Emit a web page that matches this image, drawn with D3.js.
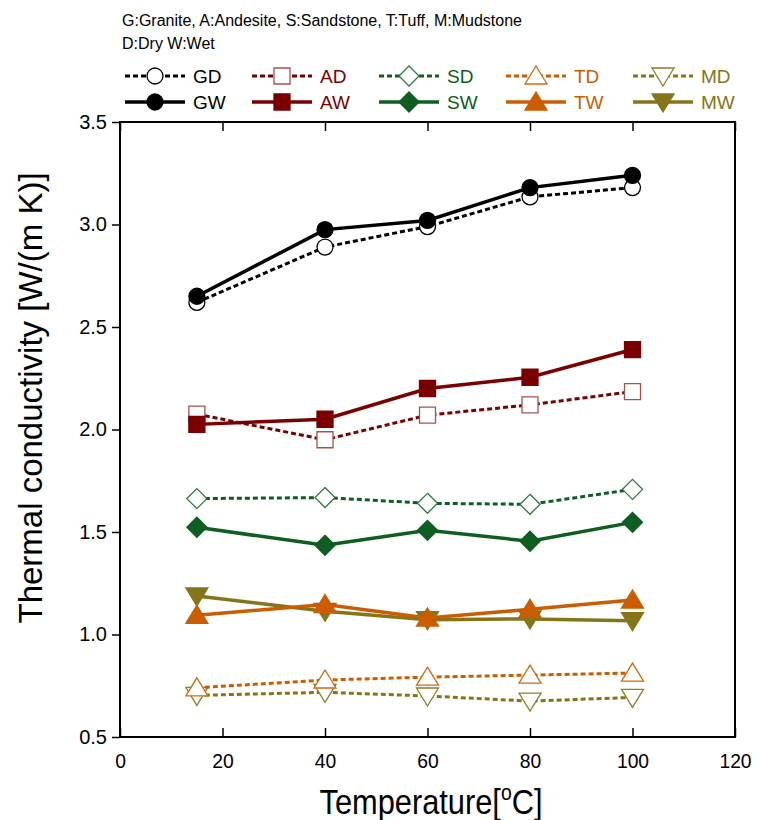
<!DOCTYPE html>
<html>
<head>
<meta charset="utf-8">
<script src="https://cdn.jsdelivr.net/npm/d3@7"></script>
<style>
  body { margin: 0; background: #fff; }
  svg text { font-family: "Liberation Sans", Arial, sans-serif; }
</style>
</head>
<body>
<svg id="chart" width="757" height="820"></svg>
<script>
const temps = [15, 40, 60, 80, 100];

const gd = [2.62, 2.89, 2.99, 3.135, 3.18];
const gw = [2.65, 2.975, 3.02, 3.18, 3.24];
const ad = [2.075, 1.95, 2.07, 2.12, 2.185];
const aw = [2.025, 2.05, 2.20, 2.255, 2.39];
const sd = [1.663, 1.668, 1.64, 1.635, 1.708];
const sw = [1.523, 1.435, 1.508, 1.455, 1.547];
const td = [0.74, 0.778, 0.792, 0.802, 0.812];
const tw = [1.094, 1.146, 1.08, 1.123, 1.168];
const md = [0.703, 0.718, 0.70, 0.675, 0.693];
const mw = [1.188, 1.113, 1.072, 1.076, 1.067];

const xTicks = [0, 20, 40, 60, 80, 100, 120];
const yTicks = [0.5, 1.0, 1.5, 2.0, 2.5, 3.0, 3.5];

// name, values, colour, marker, filled
const series = [
  {name: "GD", values: gd, color: "#000000", light: "#000000", shape: "circle", dry: true},
  {name: "AD", values: ad, color: "#7a0000", light: "#a85050", shape: "square", dry: true},
  {name: "SD", values: sd, color: "#0d5e20", light: "#2e7a3c", shape: "diamond", dry: true},
  {name: "TD", values: td, color: "#cc5c00", light: "#d06a10", shape: "up", dry: true},
  {name: "MD", values: md, color: "#857518", light: "#8e7e26", shape: "down", dry: true},
  {name: "GW", values: gw, color: "#000000", light: "#000000", shape: "circle", dry: false},
  {name: "AW", values: aw, color: "#7a0000", light: "#7a0000", shape: "square", dry: false},
  {name: "SW", values: sw, color: "#0d5e20", light: "#0d5e20", shape: "diamond", dry: false},
  {name: "TW", values: tw, color: "#cc5c00", light: "#cc5c00", shape: "up", dry: false},
  {name: "MW", values: mw, color: "#857518", light: "#857518", shape: "down", dry: false}
];

const svg = d3.select("#chart");
const pLeft = 120, pRight = 735, pTop = 122, pBottom = 737;

const x = d3.scaleLinear().domain([0, 120]).range([pLeft, pRight]);
const y = d3.scaleLinear().domain([0.5, 3.5]).range([pBottom, pTop]);

function markerPath(shape) {
  if (shape == "circle") return d3.symbol().type(d3.symbolCircle).size(200)();
  if (shape == "square") return "M-8,-8H8V8H-8Z";
  if (shape == "diamond") return "M0,-10L10,0L0,10L-10,0Z";
  if (shape == "up") return "M0,-10L11,8H-11Z";
  return "M0,10L11,-8H-11Z";
}

// frame
svg.append("rect")
  .attr("x", pLeft).attr("y", pTop)
  .attr("width", pRight - pLeft).attr("height", pBottom - pTop)
  .attr("fill", "none").attr("stroke", "#000").attr("stroke-width", 2);

// x axis, ticks inside
const xAxis = svg.append("g")
  .attr("transform", "translate(0," + pBottom + ")")
  .call(d3.axisBottom(x).tickValues(xTicks).tickSizeInner(-9).tickSizeOuter(0).tickPadding(16));
xAxis.select(".domain").remove();
xAxis.selectAll("line").attr("stroke-width", 1.5);
xAxis.selectAll("text")
  .attr("font-size", 21).attr("fill", "#000")
  .attr("transform", "scale(0.92,1)");

// top ticks
svg.append("g")
  .attr("transform", "translate(0," + pTop + ")")
  .call(d3.axisTop(x).tickValues(xTicks).tickSizeInner(-9).tickSizeOuter(0).tickFormat(""))
  .call(g => g.select(".domain").remove())
  .selectAll("line").attr("stroke-width", 1.5);

// y axis, ticks outside
const yAxis = svg.append("g")
  .attr("transform", "translate(" + pLeft + ",0)")
  .call(d3.axisLeft(y).tickValues(yTicks).tickFormat(d3.format(".1f")).tickSizeInner(8).tickSizeOuter(0).tickPadding(5));
yAxis.select(".domain").remove();
yAxis.selectAll("line").attr("stroke-width", 1.5);
yAxis.selectAll("text").attr("font-size", 20).attr("fill", "#000");

// axis titles
svg.append("text")
  .attr("transform", "translate(42,398) rotate(-90)")
  .attr("text-anchor", "middle")
  .attr("font-size", 33)
  .text("Thermal conductivity [W/(m K)]");

const xt = svg.append("text")
  .attr("transform", "translate(431,814) scale(0.88,1)")
  .attr("text-anchor", "middle")
  .attr("font-size", 35);
xt.append("tspan").text("Temperature[");
xt.append("tspan").attr("font-size", 22).attr("dy", -14).text("o");
xt.append("tspan").attr("dy", 14).text("C]");

// lines and markers
const line = d3.line()
  .x((d, i) => x(temps[i]))
  .y(d => y(d));

const drawOrder = ["MD", "TD", "MW", "TW", "SD", "SW", "AD", "AW", "GD", "GW"];
drawOrder.forEach(function(nm) {
  const s = series.find(e => e.name == nm);
  const g = svg.append("g").attr("class", "series " + nm);
  g.append("path")
    .datum(s.values)
    .attr("d", line)
    .attr("fill", "none")
    .attr("stroke", s.color)
    .attr("stroke-width", s.dry ? 3 : 3.5)
    .attr("stroke-dasharray", s.dry ? "5,3" : null);
  g.selectAll("path.mk")
    .data(s.values)
    .join("path")
    .classed("mk", true)
    .attr("transform", (d, i) => "translate(" + x(temps[i]) + "," + y(d) + ")")
    .attr("d", markerPath(s.shape))
    .attr("fill", s.dry ? "#fff" : s.color)
    .attr("stroke", s.light)
    .attr("stroke-width", 1.3);
});

// legend
svg.append("text").attr("x", 122).attr("y", 26).attr("font-size", 16)
  .text("G:Granite, A:Andesite, S:Sandstone, T:Tuff, M:Mudstone");
svg.append("text").attr("x", 122).attr("y", 49).attr("font-size", 16)
  .text("D:Dry W:Wet");

const legX = d3.scalePoint().domain(["G", "A", "S", "T", "M"]).range([125, 633]);
series.forEach(function(s) {
  const lx = legX(s.name[0]);
  const ly = s.dry ? 76 : 102;
  const g = svg.append("g").attr("transform", "translate(" + lx + "," + ly + ")");
  g.append("line")
    .attr("x1", 0).attr("x2", 60)
    .attr("stroke", s.color)
    .attr("stroke-width", s.dry ? 3 : 3.5)
    .attr("stroke-dasharray", s.dry ? "5,3" : null);
  g.append("path")
    .attr("transform", "translate(30,0)")
    .attr("d", markerPath(s.shape))
    .attr("fill", s.dry ? "#fff" : s.color)
    .attr("stroke", s.light)
    .attr("stroke-width", 1.3);
  g.append("text")
    .attr("x", 68).attr("y", 7)
    .attr("font-size", 19)
    .attr("fill", s.color)
    .text(s.name);
});
</script>
</body>
</html>
